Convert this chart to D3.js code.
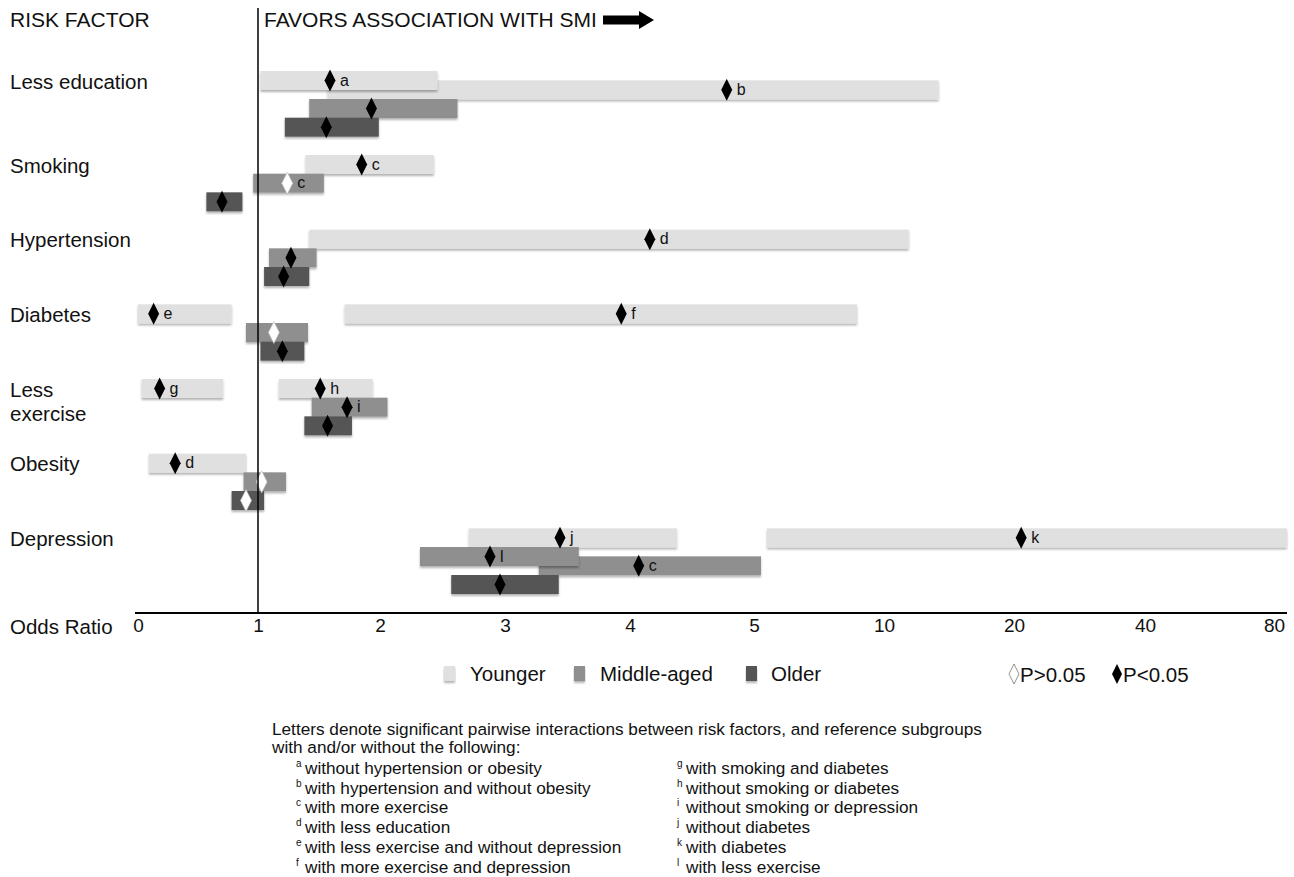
<!DOCTYPE html>
<html>
<head>
<meta charset="utf-8">
<script src="https://cdn.jsdelivr.net/npm/d3@7"></script>
<style>
  body { margin: 0; background: #fff; }
  text { font-family: "Liberation Sans", Arial, Helvetica, sans-serif; fill: #111; }
</style>
</head>
<body>
<div id="chart"></div>
<script>
var svgWidth = 1294;
var svgHeight = 877;

// risk factors, age groups, axis ticks
var factors = ["Less education", "Smoking", "Hypertension", "Diabetes", "Less exercise", "Obesity", "Depression"];
var factorLines = [["Less education"], ["Smoking"], ["Hypertension"], ["Diabetes"], ["Less", "exercise"], ["Obesity"], ["Depression"]];
var groups = ["Younger", "Middle-aged", "Older"];
var xTicks = [0, 1, 2, 3, 4, 5, 10, 20, 40, 80];

// estimates (one entry per bar)
var estFactor = ["Less education", "Less education", "Less education", "Less education",
  "Smoking", "Smoking", "Smoking",
  "Hypertension", "Hypertension", "Hypertension",
  "Diabetes", "Diabetes", "Diabetes", "Diabetes",
  "Less exercise", "Less exercise", "Less exercise", "Less exercise",
  "Obesity", "Obesity", "Obesity",
  "Depression", "Depression", "Depression", "Depression", "Depression"];
var estGroup = ["Younger", "Younger", "Middle-aged", "Older",
  "Younger", "Middle-aged", "Older",
  "Younger", "Middle-aged", "Older",
  "Younger", "Younger", "Middle-aged", "Older",
  "Younger", "Younger", "Middle-aged", "Older",
  "Younger", "Middle-aged", "Older",
  "Younger", "Younger", "Middle-aged", "Middle-aged", "Older"];
var estOR = [1.59, 4.78, 1.93, 1.56,
  1.85, 1.24, 0.70,
  4.16, 1.27, 1.21,
  0.13, 3.93, 1.13, 1.20,
  0.18, 1.51, 1.73, 1.57,
  0.31, 1.03, 0.90,
  3.44, 21.1, 2.88, 4.07, 2.96];
var estLow = [1.02, 1.57, 1.42, 1.22,
  1.39, 0.96, 0.57,
  1.42, 1.09, 1.05,
  0.0, 1.71, 0.90, 1.02,
  0.03, 1.17, 1.44, 1.38,
  0.09, 0.88, 0.78,
  2.71, 5.5, 2.32, 3.27, 2.57];
var estHigh = [2.46, 14.2, 2.62, 1.99,
  2.43, 1.54, 0.87,
  11.9, 1.48, 1.42,
  0.78, 8.96, 1.41, 1.38,
  0.71, 1.94, 2.06, 1.77,
  0.90, 1.23, 1.05,
  4.38, 84, 3.59, 5.27, 3.43];
var estSig = [true, true, true, true,
  true, false, true,
  true, true, true,
  true, true, false, true,
  true, true, true, true,
  true, false, false,
  true, true, true, true, true];
var estNote = ["a", "b", "", "",
  "c", "c", "",
  "d", "", "",
  "e", "f", "", "",
  "g", "h", "i", "",
  "d", "", "",
  "j", "k", "l", "c", ""];

// footnote text
var noteIntro = ["Letters denote significant pairwise interactions between risk factors, and reference subgroups",
  "with and/or without the following:"];
var noteKeys = ["a", "b", "c", "d", "e", "f", "g", "h", "i", "j", "k", "l"];
var noteTexts = ["without hypertension or obesity", "with hypertension and without obesity", "with more exercise",
  "with less education", "with less exercise and without depression", "with more exercise and depression",
  "with smoking and diabetes", "without smoking or diabetes", "without smoking or depression",
  "without diabetes", "with diabetes", "with less exercise"];

var rows = estFactor.map(function(f, i) {
  return { factor: f, group: estGroup[i], or: estOR[i], lo: estLow[i], hi: estHigh[i], sig: estSig[i], note: estNote[i] };
});

// work out vertical slots: an overlapping second bar is pushed down half a row
var factorSlot = {};
var slot = 0;
factors.forEach(function(f) {
  factorSlot[f] = slot;
  groups.forEach(function(g) {
    var items = rows.filter(function(r) { return r.factor === f && r.group === g; });
    var extra = 0;
    items.forEach(function(r, i) {
      var overlap = items.slice(0, i).some(function(p) { return r.lo < p.hi && r.hi > p.lo; });
      r.shifted = overlap;
      r.slot = slot + (overlap ? 0.5 : 0);
      if (overlap) extra = 0.5;
    });
    slot += 1 + extra;
  });
  slot += 1;
});
var maxSlot = d3.max(rows, function(r) { return r.slot; });

var svg = d3.select("#chart")
  .append("svg")
  .attr("width", svgWidth)
  .attr("height", svgHeight);

var defs = svg.append("defs");
var shadow = defs.append("filter")
  .attr("id", "shadow")
  .attr("x", "-5%").attr("y", "-20%")
  .attr("width", "110%").attr("height", "160%");
shadow.append("feDropShadow")
  .attr("dx", 0).attr("dy", 2)
  .attr("stdDeviation", 1)
  .attr("flood-color", "#000")
  .attr("flood-opacity", 0.3);

// x scale is broken: 0..5 step 1, then doubling
var x = d3.scaleLinear()
  .domain(xTicks)
  .range([138, 258, 380, 505, 630, 754, 884, 1014, 1145, 1274]);

var y = d3.scaleLinear()
  .domain([0, maxSlot])
  .range([80.5, 584.5]);

var color = d3.scaleOrdinal()
  .domain(groups)
  .range(["#e0e0e0", "#8f8f8f", "#545454"]);

var barH = 19;
var axisY = 613;
var bigFont = "20.5px";

// headers
svg.append("text")
  .attr("x", 10).attr("y", 27)
  .style("font-size", "21px")
  .text("RISK FACTOR");

svg.append("text")
  .attr("x", 264).attr("y", 27)
  .style("font-size", "21px")
  .text("FAVORS ASSOCIATION WITH SMI");

// arrow
svg.append("path")
  .attr("d", "M603,15.5 L639,15.5 L639,11 L654,20 L639,29 L639,24.5 L603,24.5 Z")
  .attr("fill", "#000");

// factor labels
var labels = svg.selectAll(".factor-label")
  .data(factors)
  .enter()
  .append("text")
  .attr("class", "factor-label")
  .attr("x", 10)
  .attr("y", function(f) { return y(factorSlot[f]) + 8; })
  .style("font-size", bigFont);

labels.selectAll("tspan")
  .data(function(f, i) { return factorLines[i]; })
  .enter()
  .append("tspan")
  .attr("x", 10)
  .attr("dy", function(d, i) { return i === 0 ? 0 : 24; })
  .text(function(d) { return d; });

// bars: shifted ones go behind
var ordered = rows.filter(function(r) { return r.shifted; })
  .concat(rows.filter(function(r) { return !r.shifted; }));

var bars = svg.append("g");
bars.selectAll("rect")
  .data(ordered)
  .enter()
  .append("rect")
  .attr("x", function(d) { return x(d.lo); })
  .attr("y", function(d) { return y(d.slot) - barH / 2; })
  .attr("width", function(d) { return x(d.hi) - x(d.lo); })
  .attr("height", barH)
  .attr("fill", function(d) { return color(d.group); })
  .attr("filter", "url(#shadow)");

// diamonds and letters
var marks = svg.append("g");
function diamond(cx, cy, w, h) {
  return "M" + cx + "," + (cy - h) + " L" + (cx + w) + "," + cy + " L" + cx + "," + (cy + h) + " L" + (cx - w) + "," + cy + " Z";
}

ordered.forEach(function(d) {
  var cx = x(d.or);
  var cy = y(d.slot);
  marks.append("path")
    .attr("d", diamond(cx, cy, 5.5, 11))
    .attr("fill", d.sig ? "#000" : "#fff")
    .attr("stroke", d.sig ? "none" : "#bbb")
    .attr("stroke-width", 0.6);
  if (d.note) {
    marks.append("text")
      .attr("x", cx + 10)
      .attr("y", cy + 5)
      .style("font-size", "16px")
      .text(d.note);
  }
});

// reference line at OR = 1
svg.append("line")
  .attr("x1", x(1)).attr("x2", x(1))
  .attr("y1", 8).attr("y2", axisY)
  .attr("stroke", "#000")
  .attr("stroke-width", 1.5);

// x axis
var xAxis = svg.append("g")
  .attr("transform", "translate(0," + axisY + ")")
  .call(d3.axisBottom(x).tickValues(xTicks).tickSize(0).tickPadding(6));
xAxis.select(".domain").remove();
xAxis.selectAll("text")
  .style("font-size", "19px")
  .attr("fill", "#111")
  .style("font-family", "'Liberation Sans', Arial, sans-serif");

svg.append("line")
  .attr("x1", 135).attr("x2", 1287)
  .attr("y1", axisY).attr("y2", axisY)
  .attr("stroke", "#000")
  .attr("stroke-width", 2);

svg.append("text")
  .attr("x", 10).attr("y", 634)
  .style("font-size", bigFont)
  .text("Odds Ratio");

// legend for age groups
var legendX = [444, 574, 746];
var legend = svg.selectAll(".legend")
  .data(groups)
  .enter()
  .append("g")
  .attr("class", "legend")
  .attr("transform", function(d, i) { return "translate(" + legendX[i] + ",666)"; });

legend.append("rect")
  .attr("width", 11)
  .attr("height", 15)
  .attr("fill", function(d) { return color(d); })
  .attr("filter", "url(#shadow)");

legend.append("text")
  .attr("x", function(d, i) { return i === 2 ? 25 : 26; })
  .attr("y", 15)
  .style("font-size", bigFont)
  .text(function(d) { return d; });

// legend for p-values
svg.append("path")
  .attr("d", diamond(1014, 674, 5, 10))
  .attr("fill", "#fff")
  .attr("stroke", "#777")
  .attr("stroke-width", 0.8);
svg.append("text")
  .attr("x", 1020).attr("y", 682)
  .style("font-size", bigFont)
  .text("P>0.05");

svg.append("path")
  .attr("d", diamond(1117, 674, 5, 10))
  .attr("fill", "#000");
svg.append("text")
  .attr("x", 1123).attr("y", 682)
  .style("font-size", bigFont)
  .text("P<0.05");

// footnote
svg.selectAll(".intro")
  .data(noteIntro)
  .enter()
  .append("text")
  .attr("class", "intro")
  .attr("x", 272)
  .attr("y", function(d, i) { return 735 + i * 18; })
  .style("font-size", "17.2px")
  .text(function(d) { return d; });

var notes = svg.selectAll(".note")
  .data(noteKeys)
  .enter()
  .append("g")
  .attr("class", "note")
  .attr("transform", function(d, i) {
    var col = i < 6 ? 0 : 1;
    var row = i % 6;
    return "translate(" + (col === 0 ? 296 : 677) + "," + (774 + row * 19.7) + ")";
  });

notes.append("text")
  .attr("y", -7)
  .style("font-size", "10px")
  .text(function(d) { return d; });

notes.append("text")
  .attr("x", 9)
  .style("font-size", "17.2px")
  .text(function(d, i) { return noteTexts[i]; });
</script>
</body>
</html>
